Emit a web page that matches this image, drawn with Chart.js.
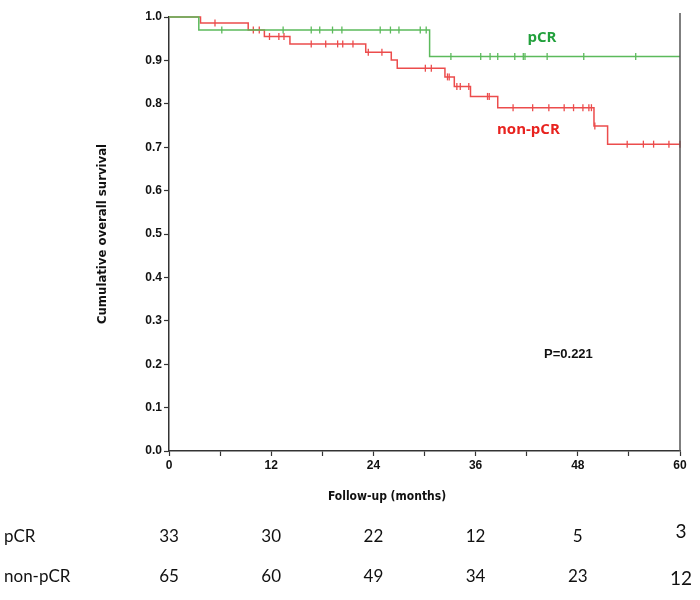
<!DOCTYPE html>
<html>
<head>
<meta charset="utf-8">
<script src="https://cdn.jsdelivr.net/npm/chart.js@4.4.1/dist/chart.umd.min.js"></script>
<style>
  html, body { margin: 0; padding: 0; background: #fff; }
  #wrap { width: 700px; height: 600px; position: relative; }
</style>
</head>
<body>
<div id="wrap"><canvas id="km"></canvas></div>
<script>
// event times (months) and survival after each drop
const pcrTimes = [0, 3.5, 30.6];
const pcrSurv = [1, 0.970, 0.909];
const nonTimes = [0, 3.7, 9.3, 11.2, 14.2, 23.1, 26.1, 26.8, 32.4, 33.5, 35.4, 38.6, 49.9, 51.5];
const nonSurv = [1, 0.986, 0.970, 0.955, 0.938, 0.919, 0.901, 0.882, 0.862, 0.840, 0.817, 0.791, 0.749, 0.707];

// censored patients (months)
const pcrCensor = [6.2, 13.4, 16.7, 17.7, 19.2, 20.3, 24.8, 26.0, 27.0, 29.5, 30.2,
  33.1, 36.6, 37.7, 38.6, 40.6, 41.6, 41.8, 44.4, 48.7, 54.8];
const nonCensor = [5.4, 9.9, 10.6, 11.8, 12.9, 13.5, 16.7, 18.4, 19.8, 20.4, 21.6, 23.4, 25.0,
  30.1, 30.8, 32.7, 32.9, 33.8, 34.2, 35.2, 37.4, 37.6, 40.4, 42.7, 44.6, 46.4, 47.5,
  48.6, 49.3, 49.6, 50.0, 53.8, 55.7, 56.9, 58.7, 60];

// numbers at risk
const riskMonths = [0, 12, 24, 36, 48, 60];
const riskPcr = [33, 30, 22, 12, 5, 3];
const riskNon = [65, 60, 49, 34, 23, 12];

const followUpEnd = 60;
const GREEN = '#5cba5c';
const RED = '#ec4c4c';
const narrowBold = 'bold 12px "Liberation Sans Narrow", "DejaVu Sans Condensed", sans-serif';

function curve(times, surv) {
  const pts = times.map((t, i) => ({ x: t, y: surv[i] }));
  pts.push({ x: followUpEnd, y: surv[surv.length - 1] });
  return pts;
}

function survAt(times, surv, t) {
  let v = surv[0];
  for (let i = 0; i < times.length; i++) {
    if (times[i] <= t) v = surv[i];
  }
  return v;
}

function marks(censor, times, surv) {
  return censor.map(t => ({ x: t, y: survAt(times, surv, t) }));
}

// texte dans le graphique + tableau des effectifs
const extras = {
  id: 'extras',
  afterDraw(chart) {
    const ctx = chart.ctx;
    const xs = chart.scales.x;
    const ys = chart.scales.y;
    const area = chart.chartArea;
    ctx.save();

    // bordure droite
    ctx.strokeStyle = '#555';
    ctx.lineWidth = 1.5;
    ctx.beginPath();
    ctx.moveTo(area.right, area.top - 4);
    ctx.lineTo(area.right, area.bottom);
    ctx.stroke();

    ctx.textAlign = 'center';
    ctx.textBaseline = 'middle';

    // titre axe x (décalé à gauche comme l'original)
    ctx.fillStyle = '#111';
    ctx.font = narrowBold;
    ctx.fillText('Follow-up (months)', 387, 497);

    ctx.font = 'bold 15px "Open Sans", "Liberation Sans", sans-serif';
    ctx.fillStyle = '#22a03c';
    ctx.fillText('pCR', xs.getPixelForValue(43.8), ys.getPixelForValue(0.952));
    ctx.fillStyle = '#e8231f';
    ctx.fillText('non-pCR', xs.getPixelForValue(42.2), ys.getPixelForValue(0.740));

    ctx.fillStyle = '#111';
    ctx.font = 'bold 13px "Liberation Sans", Arial, sans-serif';
    ctx.fillText('P=0.221', xs.getPixelForValue(46.9), ys.getPixelForValue(0.223));

    // number at risk
    ctx.font = '17px Lato, "Open Sans", sans-serif';
    ctx.fillStyle = '#111';
    ctx.textAlign = 'left';
    ctx.fillText('pCR', 4, 537);
    ctx.fillText('non-pCR', 4, 577);
    ctx.textAlign = 'center';
    riskMonths.forEach((m, i) => {
      const px = xs.getPixelForValue(m);
      const last = i === riskMonths.length - 1;
      ctx.font = (last ? '19px' : '17px') + ' Lato, "Open Sans", sans-serif';
      ctx.fillText(String(riskPcr[i]), px + (last ? 1 : 0), last ? 532 : 537);
      ctx.fillText(String(riskNon[i]), px + (last ? 1 : 0), last ? 579 : 577);
    });
    ctx.restore();
  }
};

new Chart(document.getElementById('km'), {
  type: 'scatter',
  data: {
    datasets: [
      {
        label: 'pCR',
        data: curve(pcrTimes, pcrSurv),
        showLine: true,
        stepped: 'before',
        borderColor: GREEN,
        borderWidth: 1.5,
        pointRadius: 0,
        clip: false
      },
      {
        label: 'non-pCR',
        data: curve(nonTimes, nonSurv),
        showLine: true,
        stepped: 'before',
        borderColor: RED,
        borderWidth: 1.5,
        pointRadius: 0,
        clip: false
      },
      {
        label: 'pCR censored',
        data: marks(pcrCensor, pcrTimes, pcrSurv),
        pointStyle: 'line',
        rotation: 90,
        pointRadius: 3.5,
        borderColor: GREEN,
        pointBorderWidth: 1.3,
        clip: false
      },
      {
        label: 'non-pCR censored',
        data: marks(nonCensor, nonTimes, nonSurv),
        pointStyle: 'line',
        rotation: 90,
        pointRadius: 3.5,
        borderColor: RED,
        pointBorderWidth: 1.3,
        clip: false
      }
    ]
  },
  options: {
    responsive: true,
    maintainAspectRatio: false,
    animation: false,
    events: [],
    layout: { padding: { top: 17, right: 20, left: 0, bottom: 94 } },
    plugins: {
      legend: { display: false },
      tooltip: { enabled: false }
    },
    scales: {
      x: {
        type: 'linear',
        min: 0,
        max: 60,
        afterBuildTicks(scale) {
          const t = [];
          for (let v = 0; v <= 60; v += 6) t.push({ value: v });
          scale.ticks = t;
        },
        afterFit(scale) { scale.height = 55; },
        ticks: {
          autoSkip: false,
          maxRotation: 0,
          padding: 2,
          color: '#111',
          font: { family: '"Liberation Sans", Arial, sans-serif', size: 12, weight: 'bold' },
          callback: v => (v % 12 === 0 ? String(v) : '')
        },
        grid: { drawOnChartArea: false, drawTicks: true, tickLength: 5, color: '#333', tickWidth: 1.2 },
        border: { display: true, color: '#333', width: 1.5 }
      },
      y: {
        min: 0,
        max: 1,
        afterFit(scale) { scale.width = 169; },
        ticks: {
          stepSize: 0.1,
          padding: 2,
          color: '#111',
          font: { family: '"Liberation Sans", Arial, sans-serif', size: 12, weight: 'bold' },
          callback: v => Number(v).toFixed(1)
        },
        grid: { drawOnChartArea: false, drawTicks: true, tickLength: 5, color: '#333', tickWidth: 1.2 },
        border: { display: true, color: '#333', width: 1.5 },
        title: {
          display: true,
          text: 'Cumulative overall survival',
          color: '#111',
          padding: { top: 95, bottom: 0 },
          font: { family: '"Liberation Sans Narrow", "DejaVu Sans Condensed", sans-serif', size: 13, weight: 'bold' }
        }
      }
    }
  },
  plugins: [extras]
});
</script>
</body>
</html>
